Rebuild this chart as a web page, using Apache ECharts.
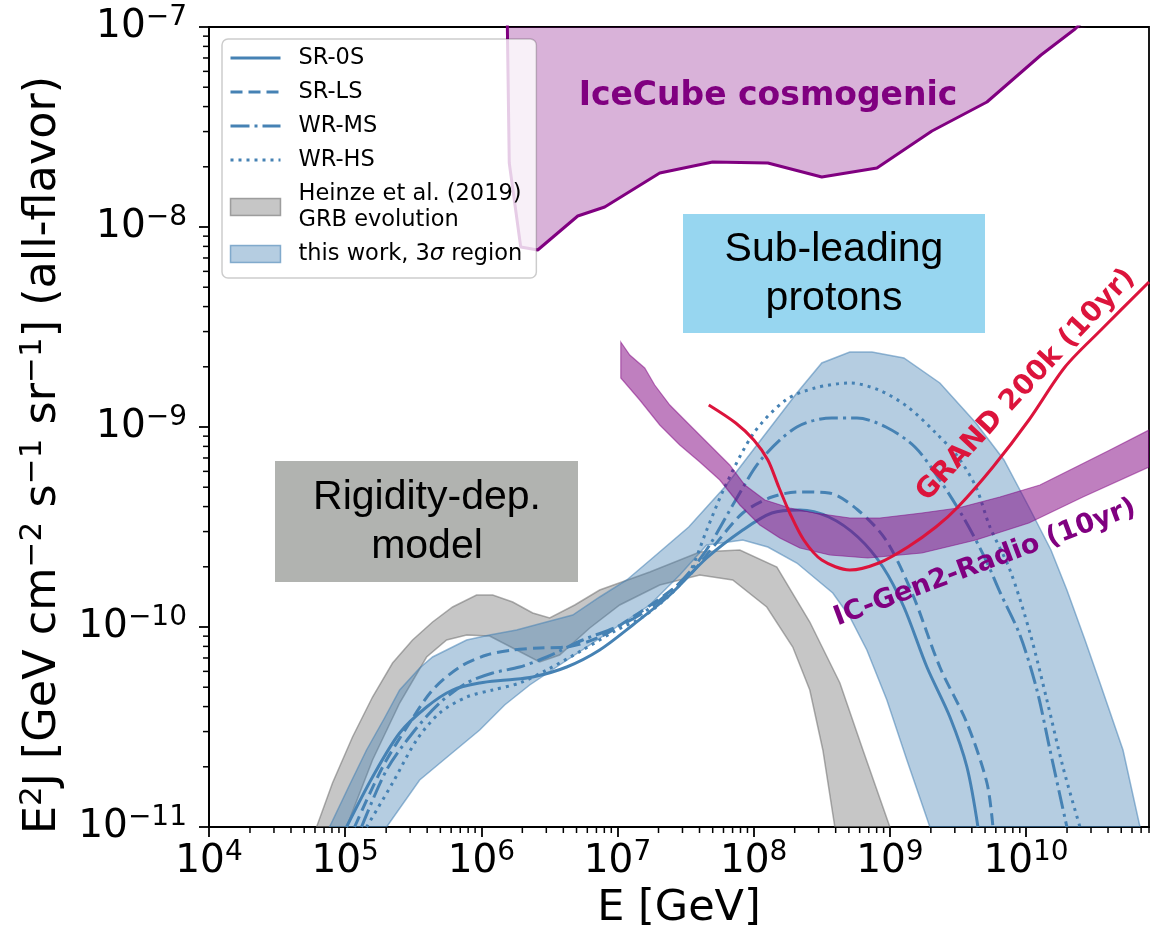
<!DOCTYPE html>
<html>
<head>
<meta charset="utf-8">
<script src="https://cdn.jsdelivr.net/npm/echarts@6/dist/echarts.min.js"></script>
<style>
  html, body { margin: 0; padding: 0; background: #fff; }
  #chart { width: 1166px; height: 943px; }
</style>
</head>
<body>
<div id="chart"></div>
<script>
// Axis layout in decades: x = log10(E / GeV), y = log10(E^2 J / GeV cm^-2 s^-1 sr^-1)
const xDecades = [4, 5, 6, 7, 8, 9, 10];
const yDecades = [-11, -10, -9, -8, -7];
const xRange = [4, 10.903];
const yRange = [-11, -7];
const minorMultiples = [2, 3, 4, 5, 6, 7, 8, 9];

// Model curves, [log10 E, log10 E^2 J]
const sr0s = [[5.010,-11.000],[5.201,-10.750],[5.400,-10.530],[5.598,-10.400],[5.789,-10.315],[5.988,-10.280],[6.186,-10.265],[6.377,-10.250],[6.627,-10.200],[6.869,-10.115],[7.112,-9.990],[7.384,-9.840],[7.655,-9.655],[7.920,-9.515],[8.133,-9.430],[8.339,-9.415],[8.552,-9.450],[8.765,-9.550],[8.949,-9.700],[9.103,-9.900],[9.272,-10.200],[9.441,-10.450],[9.566,-10.700],[9.647,-11.000]];
const srls = [[5.069,-11.000],[5.275,-10.700],[5.473,-10.480],[5.642,-10.315],[5.841,-10.200],[6.039,-10.140],[6.230,-10.115],[6.428,-10.105],[6.627,-10.100],[6.869,-10.050],[7.112,-9.950],[7.347,-9.840],[7.530,-9.740],[7.714,-9.590],[7.920,-9.430],[8.133,-9.350],[8.339,-9.325],[8.552,-9.330],[8.765,-9.415],[8.971,-9.565],[9.169,-9.840],[9.367,-10.200],[9.566,-10.480],[9.713,-10.780],[9.757,-11.000]];
const wrms = [[5.120,-11.000],[5.304,-10.715],[5.495,-10.530],[5.694,-10.380],[5.892,-10.280],[6.083,-10.230],[6.281,-10.200],[6.480,-10.150],[6.744,-10.065],[6.994,-10.000],[7.185,-9.930],[7.384,-9.825],[7.530,-9.725],[7.677,-9.590],[7.868,-9.365],[8.052,-9.165],[8.317,-9.000],[8.574,-8.955],[8.758,-8.955],[8.971,-9.000],[9.184,-9.100],[9.367,-9.265],[9.551,-9.465],[9.705,-9.665],[9.808,-9.825],[9.955,-10.040],[10.080,-10.315],[10.176,-10.615],[10.300,-11.000]];
const wrhs = [[5.157,-11.000],[5.348,-10.780],[5.525,-10.565],[5.694,-10.430],[5.892,-10.350],[6.083,-10.315],[6.281,-10.280],[6.480,-10.215],[6.744,-10.115],[6.994,-10.015],[7.185,-9.950],[7.384,-9.840],[7.530,-9.725],[7.655,-9.515],[7.788,-9.300],[8.001,-9.030],[8.236,-8.865],[8.449,-8.805],[8.706,-8.780],[8.919,-8.815],[9.132,-8.900],[9.338,-9.030],[9.500,-9.150],[9.632,-9.300],[9.735,-9.500],[9.882,-9.715],[10.029,-10.030],[10.153,-10.365],[10.271,-10.700],[10.396,-11.000]];

// 3-sigma region of this work
const thisWorkUpper = [[4.885,-11.000],[5.032,-10.790],[5.157,-10.615],[5.289,-10.455],[5.400,-10.315],[5.547,-10.205],[5.642,-10.150],[5.892,-10.065],[6.061,-10.040],[6.259,-10.015],[6.450,-9.980],[6.671,-9.940],[6.869,-9.850],[7.068,-9.765],[7.266,-9.650],[7.523,-9.500],[7.788,-9.300],[8.052,-9.065],[8.317,-8.830],[8.500,-8.680],[8.706,-8.625],[8.868,-8.625],[9.103,-8.655],[9.367,-8.780],[9.632,-8.980],[9.838,-9.165],[10.021,-9.400],[10.183,-9.615],[10.300,-9.815],[10.433,-10.065],[10.543,-10.280],[10.712,-10.615],[10.837,-11.000]];
const thisWorkLower = [[5.304,-11.000],[5.547,-10.765],[5.767,-10.640],[5.988,-10.515],[6.171,-10.390],[6.355,-10.290],[6.575,-10.190],[6.796,-10.090],[7.016,-9.990],[7.237,-9.890],[7.457,-9.740],[7.655,-9.590],[7.920,-9.565],[8.104,-9.600],[8.317,-9.680],[8.581,-9.830],[8.706,-9.950],[8.831,-10.115],[8.978,-10.365],[9.125,-10.665],[9.294,-11.000]];

// Heinze et al. (2019), GRB evolution
const heinzeUpper = [[4.790,-11.000],[4.907,-10.780],[5.054,-10.550],[5.201,-10.350],[5.348,-10.180],[5.495,-10.065],[5.642,-9.975],[5.789,-9.900],[5.965,-9.840],[6.083,-9.840],[6.230,-9.875],[6.377,-9.930],[6.502,-9.955],[6.686,-9.890],[6.869,-9.815],[7.237,-9.725],[7.604,-9.625],[7.898,-9.615],[8.170,-9.700],[8.412,-9.975],[8.633,-10.280],[8.802,-10.615],[9.000,-11.000]];
const heinzeLower = [[5.010,-11.000],[5.201,-10.665],[5.400,-10.380],[5.598,-10.150],[5.745,-10.065],[5.892,-10.040],[6.061,-10.045],[6.259,-10.115],[6.428,-10.175],[6.575,-10.140],[6.796,-10.005],[7.016,-9.890],[7.310,-9.790],[7.604,-9.740],[7.846,-9.765],[8.096,-9.900],[8.287,-10.100],[8.412,-10.315],[8.508,-10.615],[8.596,-11.000]];

// Sensitivities and limits
const grand200k = [[7.670,-8.890],[7.868,-8.980],[8.001,-9.065],[8.104,-9.165],[8.184,-9.300],[8.265,-9.430],[8.368,-9.565],[8.500,-9.665],[8.706,-9.715],[8.919,-9.680],[9.132,-9.600],[9.338,-9.500],[9.500,-9.400],[9.757,-9.200],[10.021,-8.965],[10.286,-8.700],[10.550,-8.515],[10.903,-8.275]];
const gen2RadioUpper = [[7.024,-8.575],[7.090,-8.640],[7.200,-8.705],[7.273,-8.790],[7.384,-8.890],[7.530,-8.990],[7.677,-9.090],[7.824,-9.190],[7.935,-9.290],[8.082,-9.365],[8.265,-9.405],[8.449,-9.430],[8.706,-9.455],[8.927,-9.455],[9.235,-9.430],[9.500,-9.405],[9.808,-9.350],[10.102,-9.290],[10.396,-9.190],[10.616,-9.115],[10.903,-9.015]];
const gen2RadioLower = [[7.024,-8.755],[7.163,-8.865],[7.310,-8.990],[7.457,-9.090],[7.604,-9.175],[7.751,-9.265],[7.898,-9.390],[8.045,-9.490],[8.192,-9.555],[8.339,-9.605],[8.559,-9.640],[8.838,-9.655],[9.235,-9.630],[9.632,-9.565],[10.021,-9.480],[10.418,-9.350],[10.903,-9.200]];
const iceCubeLimit = [[6.190,-6.950],[6.205,-7.680],[6.289,-8.100],[6.414,-8.115],[6.708,-7.945],[6.906,-7.900],[7.310,-7.730],[7.699,-7.675],[8.104,-7.680],[8.500,-7.750],[8.905,-7.705],[9.309,-7.520],[9.713,-7.375],[10.110,-7.140],[10.360,-7.010],[10.450,-6.950]];

const HEINZE = 'Heinze et al. (2019)\nGRB evolution';
const THIS_WORK = 'this work, 3σ region';
const BLUE = '#4682b4';

const chart = echarts.init(document.getElementById('chart'), null, { renderer: 'canvas' });

function minorTicks(lo, hi) {
  const out = [];
  for (let d = Math.floor(lo); d < hi; d++) {
    for (const m of minorMultiples) {
      const v = d + Math.log10(m);
      if (v > lo + 1e-6 && v <= hi + 1e-3) out.push(v);
    }
  }
  return out;
}

function clipRect(params) {
  const cs = params.coordSys;
  return { x: cs.x, y: cs.y, width: cs.width, height: cs.height };
}

// Closed outline drawn as one polygon in data coordinates
function polygonSeries(name, ring, style, z) {
  return {
    type: 'custom', name, coordinateSystem: 'cartesian2d', silent: true, clip: true, z,
    data: ring, encode: { x: 0, y: 1 },
    renderItem(params, api) {
      if (params.dataIndex !== 0) return null;
      const pts = ring.map(p => api.coord(p));
      return {
        type: 'polygon',
        shape: { points: echarts.graphic.clipPointsByRect(pts, clipRect(params)) },
        style
      };
    }
  };
}

// Filled region bounded by an upper and a lower curve
function band(name, upper, lower, style, z) {
  return polygonSeries(name, upper.concat(lower.slice().reverse()), style, z);
}

function modelLine(name, data, dash) {
  return {
    type: 'line', name, data, symbol: 'none', smooth: 0.3, z: 3, clip: true,
    lineStyle: { color: BLUE, width: 3, type: dash, cap: 'butt' },
    itemStyle: { color: BLUE }
  };
}

function tickSeries(name, values, axis) {
  return {
    type: 'custom', name, coordinateSystem: 'cartesian2d', silent: true, clip: false, z: 10,
    data: values.map(v => axis === 'x' ? [v, yRange[0]] : [xRange[0], v]),
    encode: { x: 0, y: 1 },
    renderItem(params, api) {
      const p = api.coord([api.value(0), api.value(1)]);
      const shape = axis === 'x'
        ? { x1: p[0], y1: p[1], x2: p[0], y2: p[1] + 6 }
        : { x1: p[0] - 6, y1: p[1], x2: p[0], y2: p[1] };
      return { type: 'line', shape, style: { stroke: '#000', lineWidth: 1.5 } };
    }
  };
}

const tickRich = {
  b: { fontFamily: 'DejaVu Sans', fontSize: 39, color: '#000', lineHeight: 46 },
  s: { fontFamily: 'DejaVu Sans', fontSize: 28, color: '#000', lineHeight: 30, verticalAlign: 'top' }
};

const lineLegendItem = name => ({ name, itemStyle: { opacity: 0 } });

const option = {
  animation: false,
  backgroundColor: '#fff',
  grid: { left: 209, top: 27, width: 940, height: 800, show: true, borderColor: '#000', borderWidth: 1.8, backgroundColor: 'transparent' },
  xAxis: {
    type: 'value', min: xRange[0], max: xRange[1], interval: 1,
    name: 'E [GeV]', nameLocation: 'middle', nameGap: 60,
    nameTextStyle: { fontFamily: 'DejaVu Sans', fontSize: 43, color: '#000' },
    axisLine: { show: true, lineStyle: { color: '#000', width: 1.8 } },
    axisTick: { show: true, length: 10, inside: false, customValues: xDecades, lineStyle: { color: '#000', width: 1.8 } },
    axisLabel: {
      customValues: xDecades, margin: 12, color: '#000',
      formatter: v => '{b|10}{s|' + Math.round(v) + '}',
      rich: tickRich
    },
    splitLine: { show: false }
  },
  yAxis: {
    type: 'value', min: yRange[0], max: yRange[1], interval: 1,
    name: '{a|E}{u|2}{a|J [GeV cm}{u|−2}{a| s}{u|−1}{a| sr}{u|−1}{a|] (all-flavor)}',
    nameLocation: 'middle', nameGap: 140, nameRotate: 90,
    nameTextStyle: {
      padding: [0, 56, 0, 0],
      rich: {
        a: { fontFamily: 'DejaVu Sans', fontSize: 44.5, color: '#000', lineHeight: 52 },
        u: { fontFamily: 'DejaVu Sans', fontSize: 31, color: '#000', lineHeight: 33, verticalAlign: 'top' }
      }
    },
    axisLine: { show: true, lineStyle: { color: '#000', width: 1.8 } },
    axisTick: { show: true, length: 10, inside: false, customValues: yDecades, lineStyle: { color: '#000', width: 1.8 } },
    axisLabel: {
      customValues: yDecades, margin: 22, color: '#000',
      formatter: v => '{b|10}{s|−' + Math.abs(Math.round(v)) + '}',
      rich: tickRich
    },
    splitLine: { show: false }
  },
  legend: {
    orient: 'vertical', left: 222, top: 39, z: 30,
    padding: [6, 14, 11, 7], itemGap: 8, itemWidth: 50, itemHeight: 17,
    backgroundColor: 'rgba(255,255,255,0.8)', borderColor: 'rgba(0,0,0,0.2)', borderWidth: 1.5, borderRadius: 6,
    selectedMode: false,
    lineStyle: { width: 3 },
    textStyle: {
      fontFamily: 'DejaVu Sans', fontSize: 22.5, color: '#000', lineHeight: 26, padding: [0, 0, 0, 13],
      rich: {
        r: { fontFamily: 'DejaVu Sans', fontSize: 22.5, color: '#000', lineHeight: 26 },
        i: { fontFamily: 'DejaVu Sans', fontStyle: 'italic', fontSize: 22.5, color: '#000', lineHeight: 26 }
      }
    },
    formatter: name => name === THIS_WORK ? '{r|this work, 3}{i|σ}{r| region}' : name,
    data: [
      lineLegendItem('SR-0S'), lineLegendItem('SR-LS'), lineLegendItem('WR-MS'), lineLegendItem('WR-HS'),
      { name: HEINZE, icon: 'rect', itemStyle: { color: 'rgba(128,128,128,0.45)', borderColor: 'rgba(110,110,110,0.6)', borderWidth: 1.5 } },
      { name: THIS_WORK, icon: 'rect', itemStyle: { color: 'rgba(70,130,180,0.4)', borderColor: 'rgba(70,130,180,0.6)', borderWidth: 1.5 } }
    ]
  },
  series: [
    band(HEINZE, heinzeUpper, heinzeLower, { fill: 'rgba(128,128,128,0.45)', stroke: 'rgba(110,110,110,0.55)', lineWidth: 1.5 }, 1),
    band(THIS_WORK, thisWorkUpper, thisWorkLower, { fill: 'rgba(70,130,180,0.4)', stroke: 'rgba(70,130,180,0.55)', lineWidth: 1.5 }, 1),
    modelLine('SR-0S', sr0s, 'solid'),
    modelLine('SR-LS', srls, [12, 6]),
    modelLine('WR-MS', wrms, [19, 5, 3, 5]),
    modelLine('WR-HS', wrhs, [3, 5]),
    band('IC-Gen2-Radio (10yr)', gen2RadioUpper, gen2RadioLower, { fill: 'rgba(128,0,128,0.5)', stroke: 'rgba(128,0,128,0.5)', lineWidth: 1.2 }, 4),
    polygonSeries('IceCube cosmogenic', iceCubeLimit, { fill: 'rgba(128,0,128,0.3)' }, 4),
    {
      type: 'line', name: 'IceCube limit', data: iceCubeLimit, symbol: 'none', z: 5, clip: true,
      lineStyle: { color: '#800080', width: 3 }
    },
    {
      type: 'line', name: 'GRAND 200k (10yr)', data: grand200k, symbol: 'none', smooth: 0.3, z: 6, clip: true,
      lineStyle: { color: '#dc143c', width: 3 }
    },
    tickSeries('x minor ticks', minorTicks(xRange[0], xRange[1]), 'x'),
    tickSeries('y minor ticks', minorTicks(yRange[0], yRange[1]), 'y')
  ],
  graphic: [
    { type: 'rect', z: 50, shape: { x: 683, y: 214, width: 302, height: 119 }, style: { fill: '#97d6f0' } },
    { type: 'text', z: 51, x: 834, y: 274, style: { text: 'Sub-leading\nprotons', fill: '#000', fontFamily: 'Liberation Sans', fontSize: 41, lineHeight: 49, align: 'center', verticalAlign: 'middle' } },
    { type: 'rect', z: 50, shape: { x: 275, y: 461, width: 303, height: 121 }, style: { fill: '#b1b3b0' } },
    { type: 'text', z: 51, x: 427, y: 522, style: { text: 'Rigidity-dep.\nmodel', fill: '#000', fontFamily: 'Liberation Sans', fontSize: 41, lineHeight: 49, align: 'center', verticalAlign: 'middle' } },
    { type: 'text', z: 51, x: 768, y: 96, style: { text: 'IceCube cosmogenic', fill: '#800080', fontFamily: 'DejaVu Sans', fontWeight: 'bold', fontSize: 33, align: 'center', verticalAlign: 'middle' } },
    { type: 'text', z: 51, x: 1026, y: 385, rotation: 47 * Math.PI / 180, style: { text: 'GRAND 200k (10yr)', fill: '#dc143c', fontFamily: 'DejaVu Sans', fontWeight: 'bold', fontSize: 28, align: 'center', verticalAlign: 'middle' } },
    { type: 'text', z: 51, x: 985, y: 563, rotation: 20.5 * Math.PI / 180, style: { text: 'IC-Gen2-Radio (10yr)', fill: '#800080', fontFamily: 'DejaVu Sans', fontWeight: 'bold', fontSize: 27, align: 'center', verticalAlign: 'middle' } }
  ]
};

chart.setOption(option);
</script>
</body>
</html>
